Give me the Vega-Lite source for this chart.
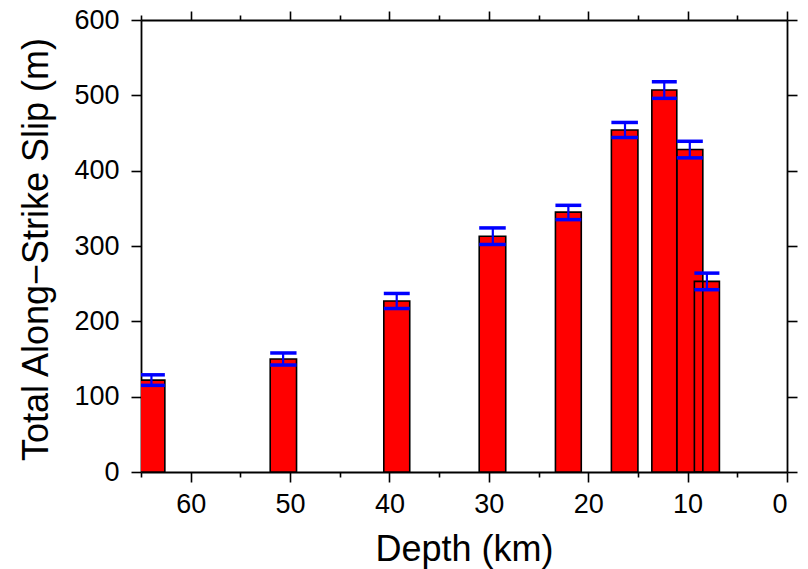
{
  "$schema": "https://vega.github.io/schema/vega-lite/v6.json",
  "width": 646,
  "height": 452,
  "autosize": {"type": "none"},
  "padding": {"left": 141, "top": 20, "right": 21, "bottom": 97},
  "background": "white",
  "config": {
    "view": {"stroke": null},
    "axis": {
      "domainColor": "black",
      "domainWidth": 1.8,
      "tickColor": "black",
      "tickWidth": 1.6,
      "labelColor": "black",
      "labelFont": "Liberation Sans",
      "labelFontSize": 27,
      "titleFont": "Liberation Sans",
      "titleFontSize": 36,
      "titleFontWeight": "normal",
      "titleColor": "black",
      "grid": false
    }
  },
  "data": {
    "values": [
      {"c": 63.95, "x0": 62.6, "x1": 65.3, "v": 122, "lo": 115, "hi": 129},
      {"c": 50.7, "x0": 49.35, "x1": 52.0, "v": 150, "lo": 142, "hi": 158},
      {"c": 39.27, "x0": 37.96, "x1": 40.57, "v": 227, "lo": 217, "hi": 237},
      {"c": 29.6, "x0": 28.3, "x1": 30.97, "v": 313, "lo": 302, "hi": 324},
      {"c": 22.0, "x0": 20.7, "x1": 23.3, "v": 345, "lo": 335, "hi": 354},
      {"c": 16.3, "x0": 15.0, "x1": 17.67, "v": 454, "lo": 444, "hi": 464},
      {"c": 12.35, "x0": 11.09, "x1": 13.6, "v": 507, "lo": 496, "hi": 518},
      {"c": 9.78, "x0": 8.47, "x1": 11.09, "v": 428, "lo": 417, "hi": 439},
      {"c": 8.06, "x0": 6.8, "x1": 9.32, "v": 253, "lo": 242, "hi": 264}
    ]
  },
  "resolve": {"axis": {"x": "independent", "y": "independent"}},
  "layer": [
    {
      "mark": {"type": "bar", "color": "#ff0000", "clip": true},
      "encoding": {
        "x": {
          "field": "x0", "type": "quantitative",
          "scale": {"domain": [0, 65], "reverse": true, "nice": false, "zero": false},
          "axis": {
            "orient": "bottom", "title": "Depth (km)",
            "values": [60, 50, 40, 30, 20, 10, 0],
            "tickSize": 10, "labelPadding": 9,
            "titleY": 88, "titleBaseline": "alphabetic"
          }
        },
        "x2": {"field": "x1"},
        "y": {
          "field": "v", "type": "quantitative",
          "scale": {"domain": [0, 600], "nice": false},
          "axis": {
            "orient": "left", "title": "Total Along\u2212Strike Slip (m)",
            "values": [0, 100, 200, 300, 400, 500, 600],
            "tickSize": 10, "labelPadding": 12,
            "titleX": -94, "titleY": 229, "titleAngle": -90,
            "titleAlign": "center", "titleBaseline": "alphabetic"
          }
        },
        "y2": {"datum": 0}
      }
    },
    {
      "mark": {"type": "bar", "fill": null, "fillOpacity": 0, "stroke": "black", "strokeWidth": 1.6, "clip": true},
      "encoding": {
        "x": {
          "field": "x0", "type": "quantitative",
          "axis": {
            "orient": "top", "title": null, "labels": false,
            "values": [60, 50, 40, 30, 20, 10, 0], "tickSize": 9
          }
        },
        "x2": {"field": "x1"},
        "y": {
          "field": "v", "type": "quantitative",
          "axis": {
            "orient": "right", "title": null, "labels": false,
            "values": [0, 100, 200, 300, 400, 500, 600], "tickSize": 10
          }
        },
        "y2": {"datum": 0}
      }
    },
    {
      "mark": {"type": "rule", "color": "#0000ff", "strokeWidth": 2.2, "clip": true},
      "encoding": {
        "x": {
          "field": "c", "type": "quantitative",
          "axis": {
            "orient": "bottom", "title": null, "labels": false, "domain": false,
            "values": [65, 55, 45, 35, 25, 15, 5], "tickSize": 5
          }
        },
        "y": {"field": "lo", "type": "quantitative", "axis": null},
        "y2": {"field": "hi"}
      }
    },
    {
      "mark": {"type": "rule", "color": "#0000ff", "strokeWidth": 3.5, "clip": true},
      "encoding": {
        "x": {
          "field": "x0", "type": "quantitative",
          "axis": {
            "orient": "top", "title": null, "labels": false, "domain": false,
            "values": [65, 55, 45, 35, 25, 15, 5], "tickSize": 5
          }
        },
        "x2": {"field": "x1"},
        "y": {"field": "hi", "type": "quantitative", "axis": null}
      }
    },
    {
      "mark": {"type": "rule", "color": "#0000ff", "strokeWidth": 3.5, "clip": true},
      "encoding": {
        "x": {"field": "x0", "type": "quantitative", "axis": null},
        "x2": {"field": "x1"},
        "y": {"field": "lo", "type": "quantitative", "axis": null}
      }
    }
  ]
}
